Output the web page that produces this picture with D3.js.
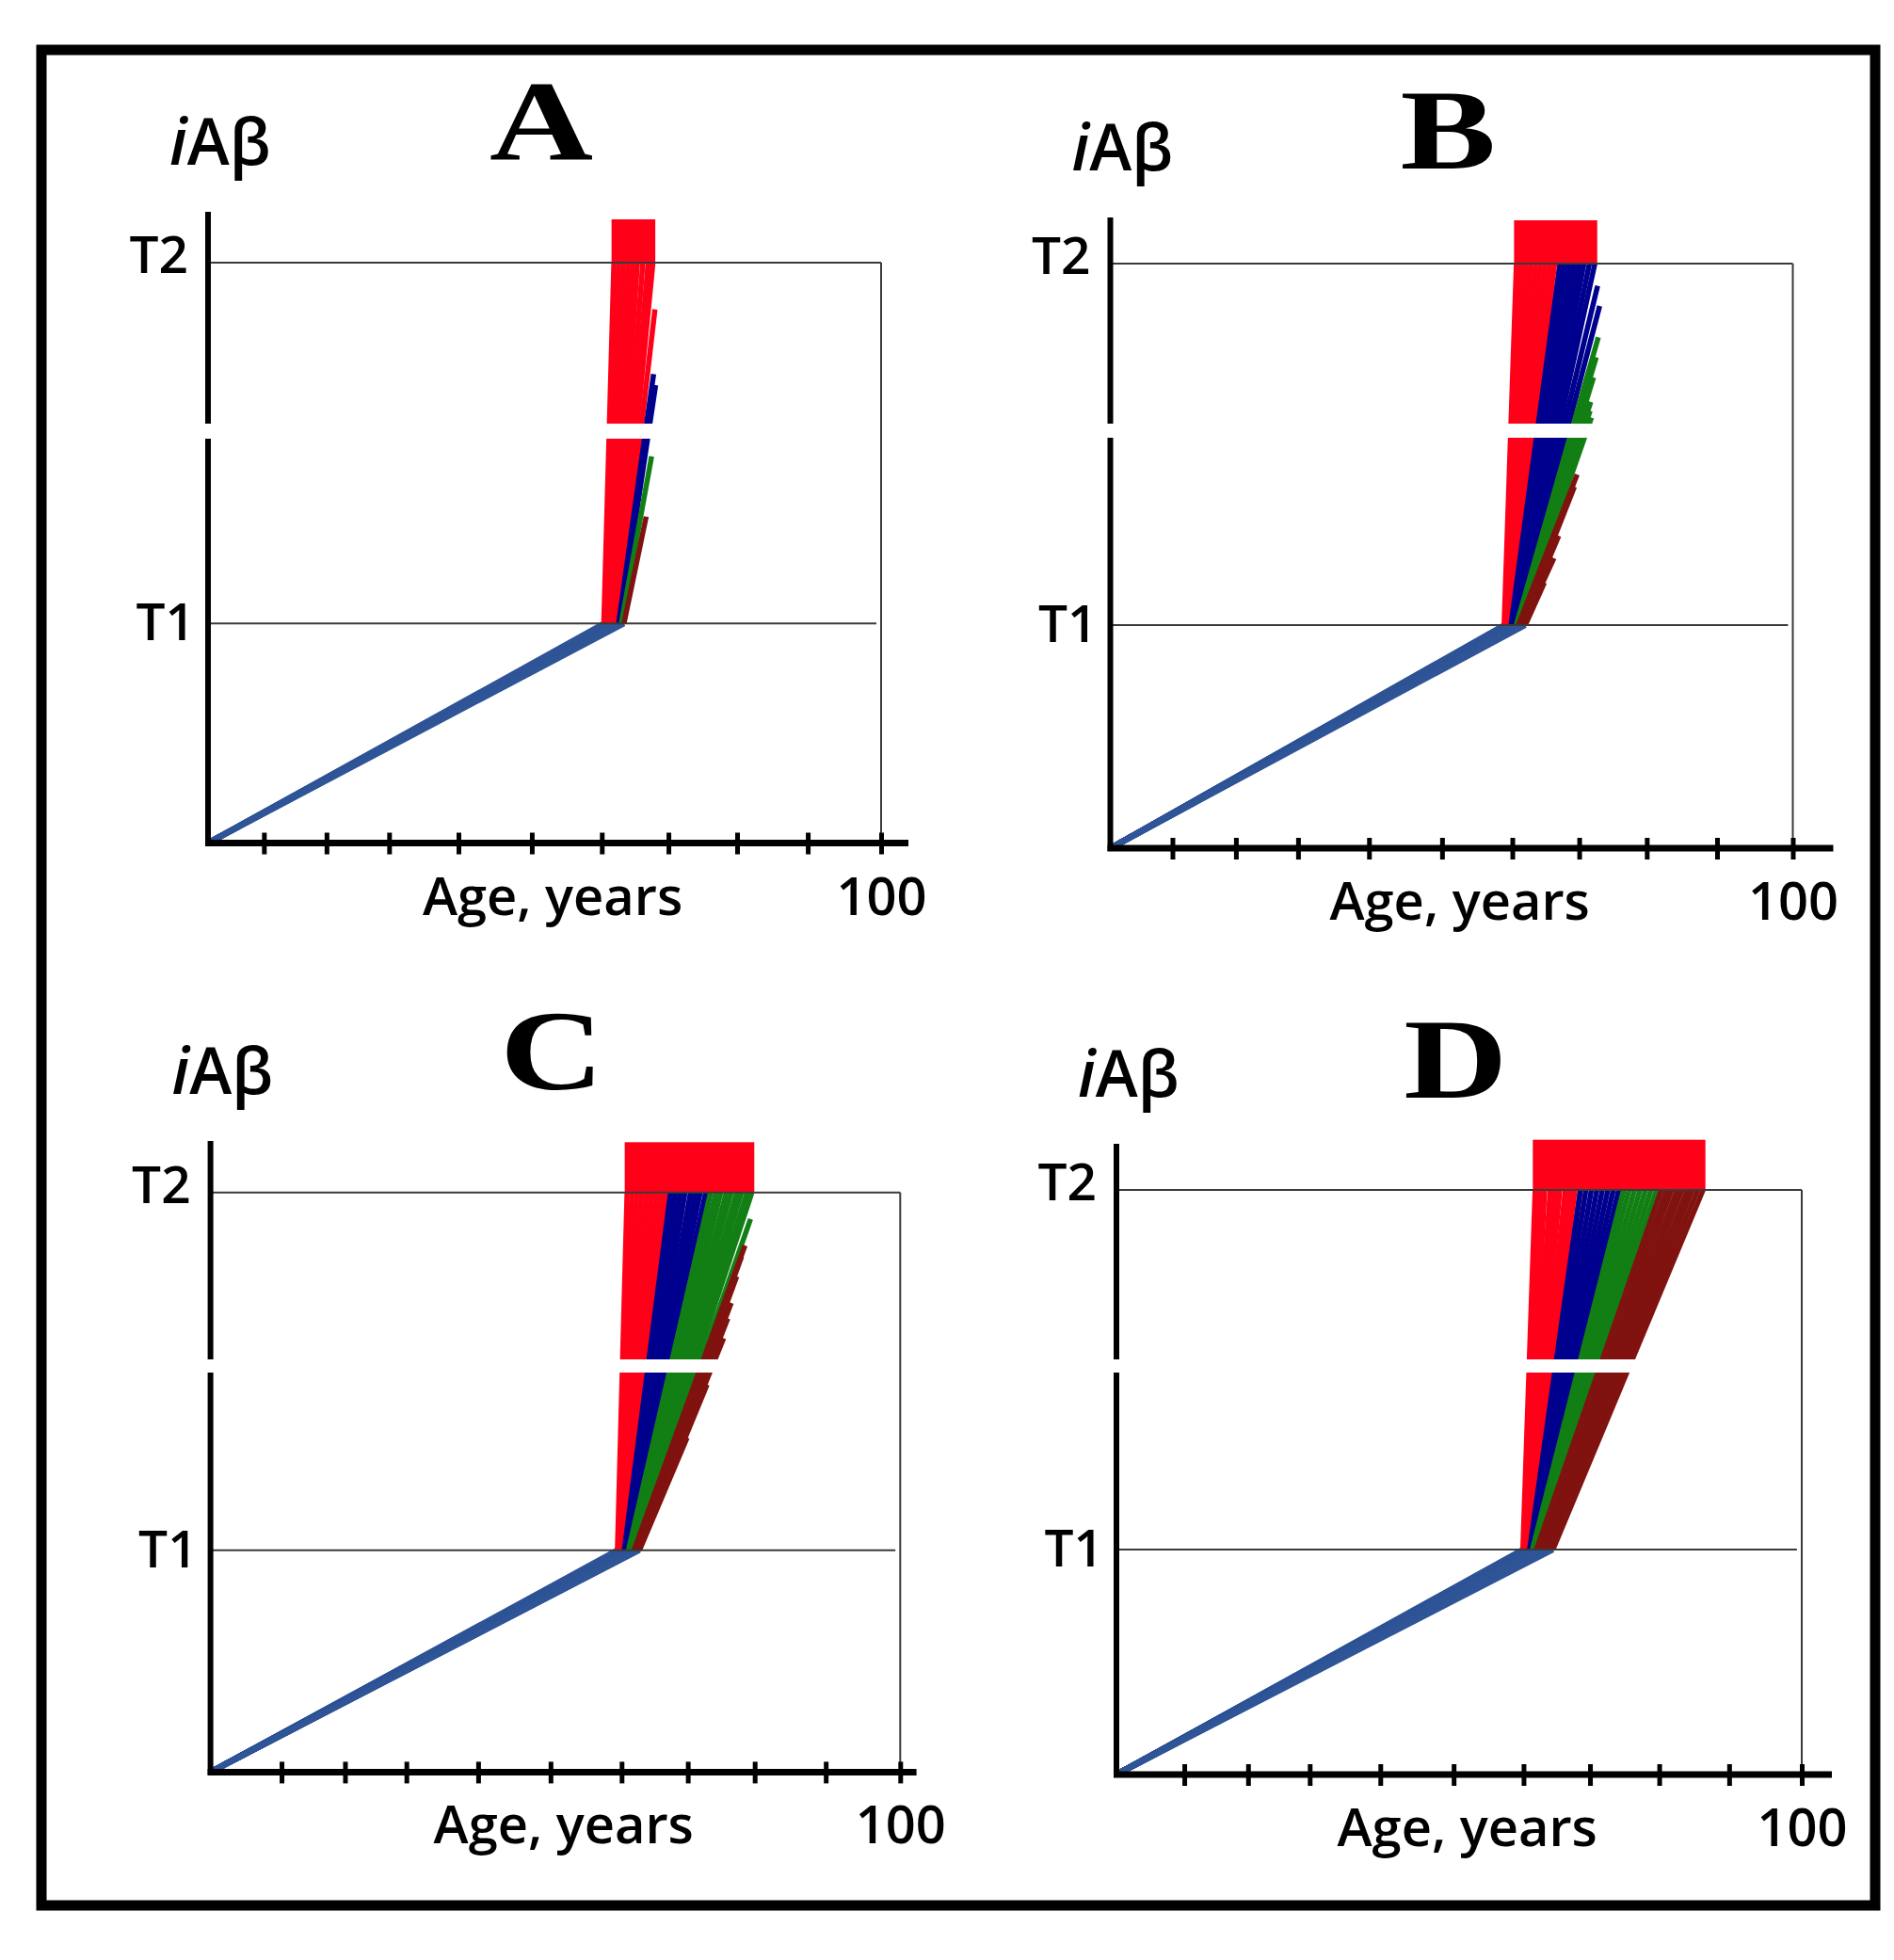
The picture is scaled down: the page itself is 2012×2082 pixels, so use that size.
<!DOCTYPE html>
<html>
<head>
<meta charset="utf-8">
<script src="https://cdn.jsdelivr.net/npm/d3@7"></script>
<style>
body { margin: 0; background: #fff; }
</style>
</head>
<body>
<div id="chart"></div>
<script>
// iAβ levels (T1 taken as 1)
const T1 = 1, T2 = 2.62, TOP = 2.83;

const panelNames = ["A", "B", "C", "D"];
// hand-drawn tick marks, ages
const ticksA = [8.3, 17.6, 26.9, 37.2, 48.1, 58.5, 68.4, 78.6, 89.1, 100];
const ticksB = [9.1, 18.4, 27.5, 37.9, 48.6, 58.9, 68.7, 78.6, 88.9, 100];
const ticksC = [10.3, 19.5, 28.4, 38.8, 49.3, 59.6, 69.2, 78.9, 89.2, 100];
const ticksD = [9.9, 19.2, 28.2, 38.5, 49.2, 59.4, 69.1, 79.2, 89.4, 100];
const xLabel = "Age, years";
const yLabel = ["i", "Aβ"];
const levelLabels = ["T1", "T2"];

// trajectories: [age when T1 is crossed, end age, end level]
const redA = [[58.8, 60.3, T2], [59.1, 61.0, T2], [59.3, 61.7, T2], [59.6, 62.4, T2], [59.9, 63.1, T2],
  [60.1, 63.8, T2], [60.4, 64.6, T2], [60.6, 65.4, T2], [60.9, 66.1, T2], [61.0, 66.4, 2.41]];
const blueA = [[61.0, 66.2, 2.12], [61.2, 66.5, 2.07]];
const greenA = [[61.4, 65.9, 1.75]];
const darkA = [[61.8, 65.1, 1.48]];

const redB = [[57.7, 59.5, T2], [57.8, 60.2, T2], [57.9, 60.9, T2], [58.0, 61.6, T2], [58.1, 62.3, T2],
  [58.2, 63.0, T2], [58.3, 63.7, T2], [58.4, 64.4, T2], [58.5, 65.1, T2], [58.7, 65.9, T2]];
const blueB = [[58.7, 65.9, T2], [58.8, 66.6, T2], [58.9, 67.3, T2], [59.0, 68.0, T2], [59.1, 68.7, T2],
  [59.2, 69.4, T2], [59.3, 70.2, T2], [59.4, 71.0, T2], [59.4, 71.4, 2.52], [59.5, 71.7, 2.43]];
const greenB = [[59.5, 71.5, 2.29], [59.5, 71.2, 2.20], [59.6, 70.8, 2.11], [59.7, 70.4, 2.00],
  [59.8, 70.3, 1.96], [59.9, 70.5, 1.93]];
const darkB = [[59.8, 68.4, 1.675], [60.0, 68.0, 1.62], [60.2, 65.7, 1.40], [60.5, 65.0, 1.30], [60.8, 63.6, 1.19]];

const redC = [[59.0, 60.4, T2], [59.1, 61.1, T2], [59.2, 61.8, T2], [59.3, 62.5, T2], [59.4, 63.2, T2],
  [59.6, 63.9, T2], [59.7, 64.6, T2], [59.8, 65.3, T2], [59.9, 66.0, T2], [60.0, 66.7, T2]];
const blueC = [[60.0, 66.7, T2], [60.1, 67.4, T2], [60.2, 68.1, T2], [60.3, 68.8, T2], [60.4, 69.6, T2],
  [60.5, 70.3, T2], [60.6, 71.0, T2], [60.7, 71.8, T2], [60.9, 72.5, T2]];
const greenC = [[60.6, 72.5, T2], [60.7, 73.3, T2], [60.8, 74.0, T2], [60.9, 74.8, T2], [61.0, 75.5, T2],
  [61.1, 76.3, T2], [61.2, 77.0, T2], [61.3, 77.8, T2], [61.4, 78.5, T2], [61.5, 78.3, 2.50]];
const darkC = [[61.4, 77.5, 2.38], [61.6, 77.0, 2.33], [61.7, 76.3, 2.24], [61.8, 75.5, 2.12],
  [61.9, 75.0, 2.05], [62.0, 74.4, 1.96], [62.1, 72.0, 1.75], [62.2, 69.1, 1.51]];

const redD = [[59.3, 61.1, T2], [59.4, 61.8, T2], [59.5, 62.5, T2], [59.6, 63.3, T2], [59.7, 64.0, T2],
  [59.8, 64.7, T2], [59.9, 65.5, T2], [60.0, 66.2, T2], [60.1, 66.9, T2], [60.3, 67.7, T2]];
const blueD = [[60.3, 67.7, T2], [60.35, 68.5, T2], [60.4, 69.3, T2], [60.45, 70.1, T2], [60.5, 70.9, T2],
  [60.55, 71.7, T2], [60.6, 72.5, T2], [60.65, 73.3, T2], [60.7, 74.0, T2]];
const greenD = [[60.7, 74.0, T2], [60.8, 74.8, T2], [60.9, 75.6, T2], [61.0, 76.4, T2], [61.05, 77.2, T2],
  [61.1, 78.0, T2], [61.2, 78.8, T2], [61.3, 79.5, T2]];
const darkD = [[61.3, 79.5, T2], [61.6, 80.3, T2], [61.9, 81.0, T2], [62.2, 81.8, T2], [62.5, 82.5, T2],
  [62.8, 83.3, T2], [63.1, 84.0, T2], [63.4, 84.8, T2], [63.7, 85.6, T2]];

const fans = [
  [redA, blueA, greenA, darkA],
  [redB, blueB, greenB, darkB],
  [redC, blueC, greenC, darkC],
  [redD, blueD, greenD, darkD]
];
const panelTicks = [ticksA, ticksB, ticksC, ticksD];

const fanColors = ["#ff0019", "#00008e", "#127f14", "#80120f"];
const baseColor = "#2f5597";

// pixel placement of each panel
const layout = [
  {ox: 221, oy: 895.5, x100: 936, yT1: 662.3, yT2: 279, yTop: 233, axisTop: 225, gap: [450, 466], xEnd: 965, labelY: 169},
  {ox: 1179.5, oy: 901, x100: 1904.5, yT1: 664, yT2: 280, yTop: 234, axisTop: 231, gap: [450, 465], xEnd: 1947.5, labelY: 179},
  {ox: 223.6, oy: 1882.4, x100: 956.3, yT1: 1646.7, yT2: 1266.7, yTop: 1213.3, axisTop: 1212, gap: [1444, 1458], xEnd: 973.6, labelY: 1157},
  {ox: 1186, oy: 1885, x100: 1914, yT1: 1646, yT2: 1264, yTop: 1210.7, axisTop: 1215, gap: [1444, 1458], xEnd: 1946, labelY: 1166}
];

const svg = d3.select("#chart")
  .append("svg")
  .attr("width", 2012)
  .attr("height", 2082);

svg.append("rect")
  .attr("width", 2012).attr("height", 2082).attr("fill", "#fff");

// outer frame
svg.append("rect")
  .attr("x", 44).attr("y", 53)
  .attr("width", 1948).attr("height", 1971)
  .attr("fill", "none").attr("stroke", "#000").attr("stroke-width", 11);

const sansFont = "'Open Sans', 'Noto Sans', sans-serif";

panelNames.forEach((name, i) => {
  const L = layout[i];
  const x = d3.scaleLinear().domain([0, 100]).range([L.ox, L.x100]);
  const y = d3.scaleLinear().domain([0, T1, T2, TOP]).range([L.oy, L.yT1, L.yT2, L.yTop]);
  const g = svg.append("g");
  const groups = fans[i];
  const all = groups.flat();

  // rise from birth to T1
  g.append("g").selectAll("line")
    .data(all)
    .join("line")
    .attr("x1", x(0)).attr("y1", y(0))
    .attr("x2", d => x(d[0])).attr("y2", y(T1))
    .attr("stroke", baseColor).attr("stroke-width", 6);

  // fans above T1
  groups.forEach((lines, k) => {
    g.append("g").selectAll("line")
      .data(lines)
      .join("line")
      .attr("x1", d => x(d[0])).attr("y1", y(T1))
      .attr("x2", d => x(d[1])).attr("y2", d => y(Math.min(d[2], T2)))
      .attr("stroke", fanColors[k]).attr("stroke-width", 5.5);
  });

  // red block above T2
  const cross = all.filter(d => d[2] >= T2).map(d => d[1]);
  g.append("rect")
    .attr("x", x(d3.min(cross)) - 2.5)
    .attr("y", y(TOP))
    .attr("width", x(d3.max(cross)) - x(d3.min(cross)) + 5)
    .attr("height", y(T2) - y(TOP))
    .attr("fill", fanColors[0]);

  // threshold lines and right border
  g.append("line")
    .attr("x1", x(0)).attr("x2", x(100))
    .attr("y1", y(T2)).attr("y2", y(T2))
    .attr("stroke", "#3a3a3a").attr("stroke-width", 2);
  g.append("line")
    .attr("x1", x(0)).attr("x2", x(99.3))
    .attr("y1", y(T1)).attr("y2", y(T1))
    .attr("stroke", "#3a3a3a").attr("stroke-width", 2);
  g.append("line")
    .attr("x1", x(100)).attr("x2", x(100))
    .attr("y1", y(T2)).attr("y2", y(0))
    .attr("stroke", "#3a3a3a").attr("stroke-width", 2);

  // y axis
  g.append("line")
    .attr("x1", L.ox).attr("x2", L.ox)
    .attr("y1", L.axisTop).attr("y2", L.oy + 3)
    .attr("stroke", "#000").attr("stroke-width", 6);

  // x axis
  g.append("line")
    .attr("x1", L.ox - 3).attr("x2", L.xEnd)
    .attr("y1", L.oy).attr("y2", L.oy)
    .attr("stroke", "#000").attr("stroke-width", 7);

  const ax = g.append("g")
    .attr("transform", `translate(0,${L.oy})`)
    .call(d3.axisBottom(x)
      .tickValues(panelTicks[i])
      .tickSizeOuter(0)
      .tickFormat(d => d === 100 ? "100" : ""));
  ax.select(".domain").remove();
  ax.selectAll(".tick line")
    .attr("y1", -11).attr("y2", 12)
    .attr("stroke", "#000").attr("stroke-width", 5);
  ax.selectAll(".tick text")
    .attr("y", 76).attr("dy", "0")
    .attr("fill", "#000")
    .style("font-family", sansFont)
    .style("font-weight", 600)
    .style("font-size", "56px");

  // axis break
  g.append("rect")
    .attr("x", L.ox - 8).attr("y", L.gap[0])
    .attr("width", x(95) - L.ox + 8).attr("height", L.gap[1] - L.gap[0])
    .attr("fill", "#fff");

  // texts
  g.append("text")
    .attr("x", x(51.2)).attr("y", L.oy + 76)
    .attr("text-anchor", "middle")
    .style("font-family", sansFont).style("font-size", "56px").style("font-weight", 600)
    .text(xLabel);

  g.append("text")
    .attr("x", L.ox - 21).attr("y", y(T2) + 11)
    .attr("text-anchor", "end")
    .style("font-family", sansFont).style("font-size", "55px").style("font-weight", 600)
    .text(levelLabels[1]);
  g.append("text")
    .attr("x", L.ox - 14).attr("y", y(T1) + 18)
    .attr("text-anchor", "end")
    .style("font-family", sansFont).style("font-size", "55px").style("font-weight", 600)
    .text(levelLabels[0]);

  const yl = g.append("text")
    .attr("x", L.ox - 41).attr("y", L.axisTop - 50)
    .style("font-family", sansFont).style("font-size", "68px").style("font-weight", 600);
  yl.append("tspan").style("font-style", "italic").text(yLabel[0]);
  yl.append("tspan").text(yLabel[1]);

  g.append("text")
    .attr("transform", `translate(${x(49.5)},${L.labelY}) scale(1.27,1)`)
    .attr("text-anchor", "middle")
    .style("font-family", "'Liberation Serif', 'DejaVu Serif', serif")
    .style("font-weight", "bold")
    .style("font-size", "120px")
    .text(name);
});
</script>
</body>
</html>
